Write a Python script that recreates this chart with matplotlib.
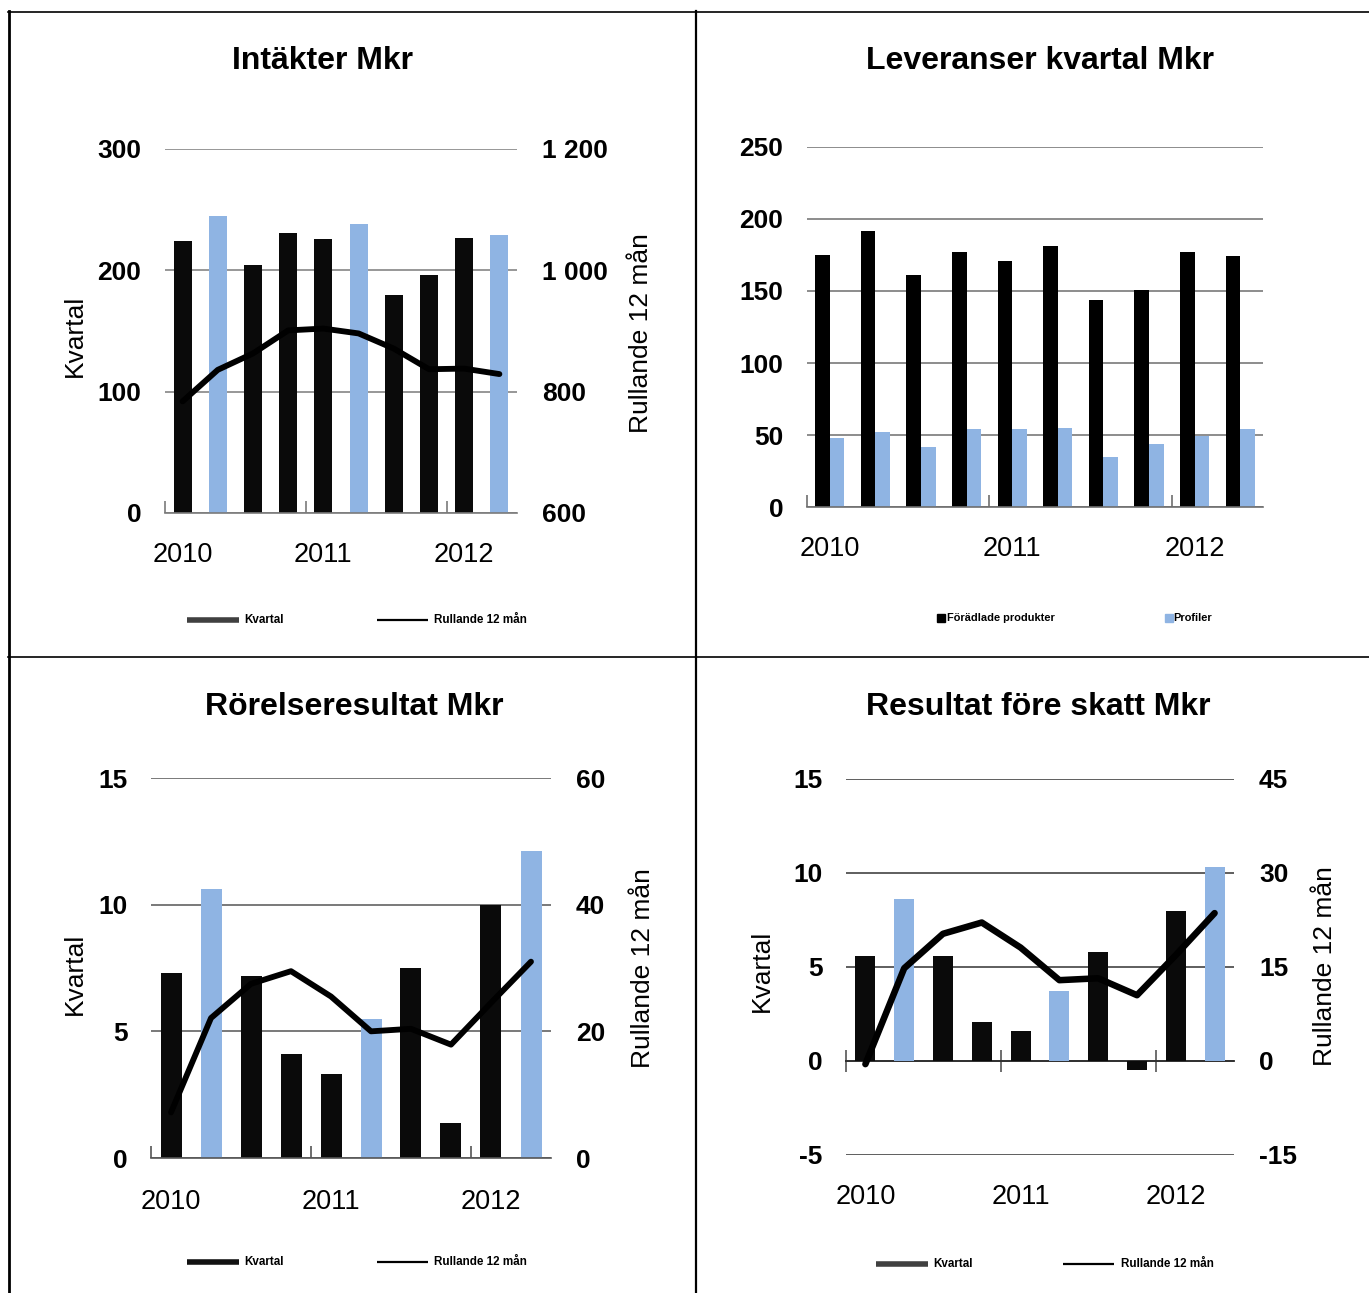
import matplotlib
matplotlib.use('Agg')
import matplotlib.pyplot as plt
from matplotlib.lines import Line2D
import numpy as np

plt.rcParams['font.family'] = ['Liberation Sans', 'DejaVu Sans']

# ---------------- data ----------------
years = ['2010', '2011', '2012']
n_quarters = 10

intakter_kvartal = [224, 245, 204, 231, 226, 238, 180, 196, 227, 229]
intakter_rullande = [784, 836, 863, 901, 904, 896, 871, 837, 838, 829]

lev_foradlade = [175, 192, 161, 177, 171, 181, 144, 151, 177, 174]
lev_profiler = [48, 52, 42, 54, 54, 55, 35, 44, 49, 54]

ror_kvartal = [7.3, 10.6, 7.2, 4.1, 3.3, 5.5, 7.5, 1.4, 10.0, 12.1]
ror_rullande = [7.2, 22.1, 27.5, 29.5, 25.5, 20.0, 20.4, 17.9, 24.5, 31.0]

rfs_kvartal = [5.6, 8.6, 5.6, 2.1, 1.6, 3.7, 5.8, -0.5, 8.0, 10.3]
rfs_rullande = [-0.5, 14.8, 20.3, 22.1, 18.1, 12.9, 13.2, 10.5, 16.9, 23.6]

# ---------------- style ----------------
W, H = 1369, 1293
BLACK = '#0a0a0a'
BLUE = '#8fb4e3'
highlight = [1, 5, 9]          # quarters drawn in blue
x = np.arange(n_quarters)
year_pos = [0, 4, 8]
year_ticks = [-0.5, 3.5, 7.5]
bar_colors = [BLUE if i in highlight else BLACK for i in range(n_quarters)]

fig = plt.figure(figsize=(W / 100, H / 100), dpi=100)


def fx(px):
    return px / W


def fy(py):
    return 1 - py / H


def add_axes(x0, x1, ytop, ybot):
    return fig.add_axes([fx(x0), fy(ybot), (x1 - x0) / W, (ybot - ytop) / H])


def style_main(ax, ylim, yticks, ylabels, gridc, xpad, bottom_spine=True):
    ax.set_xlim(-0.5, n_quarters - 0.5)
    ax.set_ylim(*ylim)
    ax.set_yticks(yticks)
    ax.set_yticklabels(ylabels, fontsize=19, fontweight='bold')
    ax.tick_params(axis='y', length=0, pad=17)
    for s in ['top', 'right', 'left']:
        ax.spines[s].set_visible(False)
    ax.spines['bottom'].set_color(gridc)
    ax.spines['bottom'].set_linewidth(1.2)
    ax.spines['bottom'].set_visible(bottom_spine)
    ax.set_xticks(year_pos)
    ax.set_xticklabels(years, fontsize=19.5)
    ax.tick_params(axis='x', which='major', length=0, pad=xpad)
    if bottom_spine:
        ax.set_xticks(year_ticks, minor=True)
        ax.tick_params(axis='x', which='minor', direction='in', length=9,
                       width=1.2, color=gridc)
    ax.yaxis.grid(True, color=gridc, lw=1.1)
    ax.set_axisbelow(True)


def style_twin(ax2, ylim, yticks, ylabels):
    ax2.set_ylim(*ylim)
    ax2.set_yticks(yticks)
    ax2.set_yticklabels(ylabels, fontsize=19, fontweight='bold')
    ax2.tick_params(axis='y', length=0, pad=18)
    for s in ax2.spines.values():
        s.set_visible(False)


def legend_kvartal(x0, y, color, x1, xt):
    fig.add_artist(Line2D([fx(x0), fx(x0 + 52)], [fy(y), fy(y)], color=color,
                          lw=4, solid_capstyle='butt'))
    fig.text(fx(x0 + 57), fy(y), 'Kvartal', fontsize=8.4, fontweight='bold',
             va='center', ha='left')
    fig.add_artist(Line2D([fx(x1), fx(x1 + 51)], [fy(y), fy(y)], color='black',
                          lw=1.6, solid_capstyle='butt'))
    fig.text(fx(xt), fy(y), 'Rullande 12 mån', fontsize=8.4, fontweight='bold',
             va='center', ha='left')


def ylabel_text(xc, yc, s):
    fig.text(fx(xc), fy(yc), s, rotation=90, fontsize=19, ha='center', va='center')


def title(xc, yc, s):
    fig.text(fx(xc), fy(yc), s, fontsize=23, fontweight='bold', ha='center', va='center')


LW = 4.2

# ---------------- Panel 1: Intäkter ----------------
ax = add_axes(165, 517, 149, 513)
ax.bar(x, intakter_kvartal, width=0.51, color=bar_colors, zorder=2)
style_main(ax, (0, 300), [0, 100, 200, 300], ['0', '100', '200', '300'], '#7a7a7a', 21)
ax2 = ax.twinx()
ax2.plot(x, intakter_rullande, color='black', lw=LW, solid_capstyle='round',
         solid_joinstyle='round')
style_twin(ax2, (600, 1200), [600, 800, 1000, 1200], ['600', '800', '1 000', '1 200'])
title(323, 61, 'Intäkter Mkr')
ylabel_text(75, 336, 'Kvartal')
ylabel_text(641, 333, 'Rullande 12 mån')
legend_kvartal(187, 620, '#404040', 377, 434)

# ---------------- Panel 2: Leveranser ----------------
ax = add_axes(807, 1263, 147, 507)
bw = 0.32
ax.bar(x - bw / 2, lev_foradlade, width=bw, color='black', zorder=2)
ax.bar(x + bw / 2, lev_profiler, width=bw, color=BLUE, zorder=2)
style_main(ax, (0, 250), [0, 50, 100, 150, 200, 250],
           ['0', '50', '100', '150', '200', '250'], '#6e6e6e', 21)
title(1040, 61, 'Leveranser kvartal Mkr')
ly = 618
fig.add_artist(Line2D([fx(940.5)], [fy(ly)], marker='s', markersize=5.2,
                      color='black', linestyle='none'))
fig.text(fx(947), fy(ly), 'Förädlade produkter', fontsize=7.9, fontweight='bold',
         va='center', ha='left')
fig.add_artist(Line2D([fx(1168.5)], [fy(ly)], marker='s', markersize=5.2,
                      color=BLUE, linestyle='none'))
fig.text(fx(1173.5), fy(ly), 'Profiler', fontsize=7.9, fontweight='bold',
         va='center', ha='left')

# ---------------- Panel 3: Rörelseresultat ----------------
ax = add_axes(151, 551, 778, 1158)
ax.bar(x, ror_kvartal, width=0.525, color=bar_colors, zorder=2)
style_main(ax, (0, 15), [0, 5, 10, 15], ['0', '5', '10', '15'], '#555555', 22)
ax2 = ax.twinx()
ax2.plot(x, ror_rullande, color='black', lw=LW, solid_capstyle='round',
         solid_joinstyle='round')
style_twin(ax2, (0, 60), [0, 20, 40, 60], ['0', '20', '40', '60'])
title(354, 707, 'Rörelseresultat Mkr')
ylabel_text(75, 974, 'Kvartal')
ylabel_text(643, 968, 'Rullande 12 mån')
legend_kvartal(187, 1262, '#111111', 377, 434)

# ---------------- Panel 4: Resultat före skatt ----------------
ax = add_axes(846, 1234, 779, 1155)
ax.bar(x, rfs_kvartal, width=0.515, color=bar_colors, zorder=2)
style_main(ax, (-5, 15), [-5, 0, 5, 10, 15], ['-5', '0', '5', '10', '15'],
           '#333333', 21, bottom_spine=False)
sec = ax.secondary_xaxis(0.25)
sec.set_xticks(year_ticks)
sec.set_xticklabels([])
sec.tick_params(direction='inout', length=16, width=1.2, color='#555555')
sec.spines['bottom'].set_color('#222222')
sec.spines['bottom'].set_linewidth(1.3)
ax2 = ax.twinx()
ax2.plot(x, rfs_rullande, color='black', lw=LW + 0.5, solid_capstyle='round',
         solid_joinstyle='round')
style_twin(ax2, (-15, 45), [-15, 0, 15, 30, 45], ['-15', '0', '15', '30', '45'])
title(1038, 707, 'Resultat före skatt Mkr')
ylabel_text(762, 971, 'Kvartal')
ylabel_text(1325, 966, 'Rullande 12 mån')
legend_kvartal(876, 1264, '#404040', 1063, 1121)

# ---------------- table borders ----------------
def hline(y, x0, x1, lw):
    fig.add_artist(Line2D([fx(x0), fx(x1)], [fy(y), fy(y)], color='black', lw=lw))


def vline(xp, y0, y1, lw):
    fig.add_artist(Line2D([fx(xp), fx(xp)], [fy(y0), fy(y1)], color='black', lw=lw))


hline(11.5, 8, W, 1.2)
hline(657, 8, W, 1.2)
vline(9, 11, H, 2.0)
vline(696, 11, H, 1.6)

fig.savefig('out.png', dpi=100)
